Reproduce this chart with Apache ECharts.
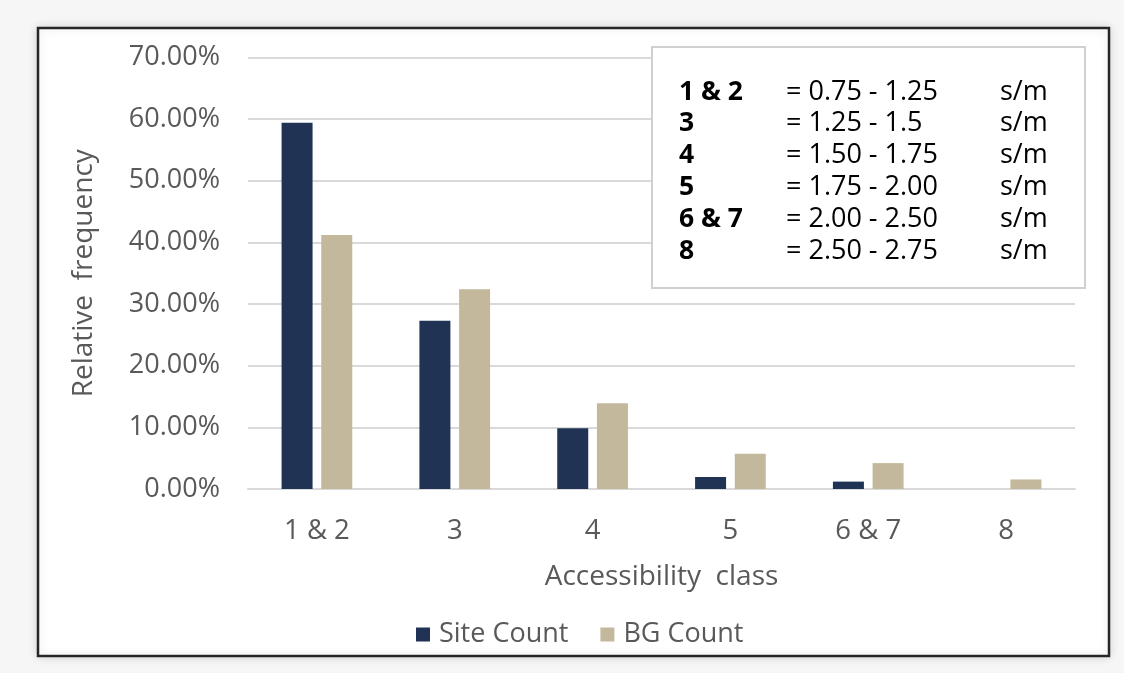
<!DOCTYPE html>
<html>
<head>
<meta charset="utf-8">
<script src="https://cdn.jsdelivr.net/npm/echarts@6/dist/echarts.min.js"></script>
<style>
html,body{margin:0;padding:0;background:#f6f6f6;}
#c{width:1124px;height:673px;}
</style>
</head>
<body>
<div id="c"></div>
<script>
var categories = ['1 & 2', '3', '4', '5', '6 & 7', '8'];
var siteCount = [59.4, 27.3, 9.85, 1.95, 1.2, 0];
var bgCount = [41.2, 32.4, 13.9, 5.7, 4.2, 1.55];
var classLabels = ['1 & 2', '3', '4', '5', '6 & 7', '8'];
var classRanges = ['= 0.75 - 1.25', '= 1.25 - 1.5', '= 1.50 - 1.75', '= 1.75 - 2.00', '= 2.00 - 2.50', '= 2.50 - 2.75'];
var classUnit = 's/m';

var FONT = '"Open Sans", "Noto Sans", sans-serif';
var chart = echarts.init(document.getElementById('c'));

var graphics = [
  {type:'rect', z:-10, shape:{x:38, y:28, width:1071, height:628},
   style:{fill:'#ffffff', stroke:'#262626', lineWidth:2.5, shadowBlur:10, shadowColor:'rgba(0,0,0,0.12)'}},
  {type:'rect', z:10, shape:{x:652, y:47, width:433, height:241},
   style:{fill:'#ffffff', stroke:'#d0d0d0', lineWidth:2}}
];
for (var i = 0; i < classLabels.length; i++) {
  var y = 92 + i * 31.8;
  graphics.push({type:'text', z:11, x:679, y:y,
    style:{text:classLabels[i], font:'bold 26.5px ' + FONT, fill:'#000', verticalAlign:'middle'}});
  graphics.push({type:'text', z:11, x:786, y:y,
    style:{text:classRanges[i], font:'27px ' + FONT, fill:'#000', verticalAlign:'middle'}});
  graphics.push({type:'text', z:11, x:1000, y:y,
    style:{text:classUnit, font:'27px ' + FONT, fill:'#000', verticalAlign:'middle'}});
}

chart.setOption({
  backgroundColor:'#f6f6f6',
  animation:false,
  textStyle:{fontFamily:FONT},
  graphic: graphics,
  grid:{left:248, right:49, top:57.5, bottom:184},
  legend:{
    data:['Site Count','BG Count'],
    top:616, left:411,
    itemWidth:14, itemHeight:14, itemGap:32,
    icon:'rect',
    textStyle:{fontSize:27, color:'#595959', fontFamily:FONT, padding:[0,0,0,4]}
  },
  xAxis:{
    type:'category',
    data:categories,
    name:'Accessibility  class',
    nameLocation:'middle',
    nameGap:74,
    nameTextStyle:{fontSize:28, color:'#595959', fontFamily:FONT},
    axisLine:{lineStyle:{color:'#d9d9d9', width:2}},
    axisTick:{show:false},
    axisLabel:{fontSize:27.5, color:'#595959', margin:28, fontFamily:FONT}
  },
  yAxis:{
    type:'value',
    min:0, max:70, interval:10,
    name:'Relative  frequency',
    nameLocation:'middle',
    nameGap:150,
    nameTextStyle:{fontSize:28, color:'#595959', fontFamily:FONT},
    axisLine:{show:false},
    axisTick:{show:false},
    splitLine:{lineStyle:{color:'#d9d9d9', width:2}},
    axisLabel:{fontSize:27, color:'#595959', margin:28, fontFamily:FONT,
      formatter:function(v){return v.toFixed(2) + '%';}}
  },
  series:[
    {name:'Site Count', type:'bar', data:siteCount, barWidth:31, barGap:'28%',
     itemStyle:{color:'#203354'}},
    {name:'BG Count', type:'bar', data:bgCount, barWidth:31,
     itemStyle:{color:'#c3b89b'}}
  ]
});
</script>
</body>
</html>
